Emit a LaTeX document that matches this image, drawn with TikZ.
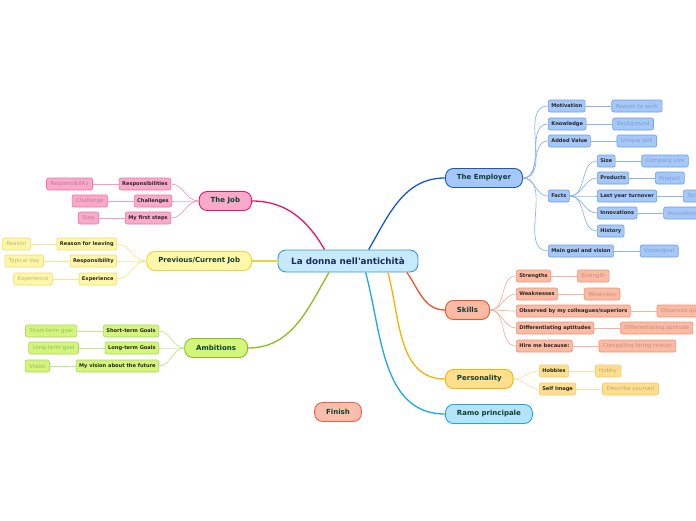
\documentclass[tikz,border=0pt]{standalone}
\usepackage{fontspec}
\newfontfamily\mapfont{DejaVu Sans}
\usetikzlibrary{positioning}
\definecolor{RootFill}{HTML}{C6EAFB}
\definecolor{RootLine}{HTML}{3B97D8}
\definecolor{RootText}{HTML}{1B2A5C}
\definecolor{MainText}{HTML}{0E3D33}
\definecolor{SubText}{HTML}{262626}
\definecolor{EmpFill}{HTML}{A6C8F8}
\definecolor{EmpLine}{HTML}{1558CC}
\definecolor{EmpEdge}{HTML}{6E9DE8}
\definecolor{EmpText}{HTML}{7F9BD0}
\definecolor{EmpLink}{HTML}{8DB4F2}
\definecolor{JobFill}{HTML}{F9AACB}
\definecolor{JobLine}{HTML}{E4136F}
\definecolor{JobEdge}{HTML}{EE74A8}
\definecolor{JobText}{HTML}{C47A9C}
\definecolor{JobLink}{HTML}{F59AC2}
\definecolor{PrevFill}{HTML}{FFF7A8}
\definecolor{PrevLine}{HTML}{E8D43C}
\definecolor{PrevEdge}{HTML}{EEDC6E}
\definecolor{PrevText}{HTML}{BDB77A}
\definecolor{PrevLink}{HTML}{F3E88A}
\definecolor{AmbFill}{HTML}{D3F57C}
\definecolor{AmbLine}{HTML}{8CBD1C}
\definecolor{AmbEdge}{HTML}{ABD85C}
\definecolor{AmbText}{HTML}{9AB86A}
\definecolor{AmbLink}{HTML}{C4E68A}
\definecolor{SkFill}{HTML}{FABAA3}
\definecolor{SkLine}{HTML}{E9542A}
\definecolor{SkEdge}{HTML}{F09276}
\definecolor{SkText}{HTML}{C8927E}
\definecolor{SkLink}{HTML}{F7B39D}
\definecolor{PeFill}{HTML}{FFDF8C}
\definecolor{PeLine}{HTML}{F5B400}
\definecolor{PeEdge}{HTML}{F6C870}
\definecolor{PeText}{HTML}{BFA878}
\definecolor{PeLink}{HTML}{FCE0A0}
\definecolor{RaFill}{HTML}{B3E4FA}
\definecolor{RaLine}{HTML}{1EA6E6}
\definecolor{FiFill}{HTML}{F9BFAC}
\definecolor{FiLine}{HTML}{E8604A}
\tikzset{
  rootbox/.style={draw=RootLine, fill=RootFill, line width=0.9pt, rounded corners=8pt,
    minimum width=140pt, minimum height=22pt, text=RootText,
    font=\mapfont\bfseries\fontsize{8.8}{10}\selectfont},
  branch/.style={draw=#1Line, fill=#1Fill, line width=0.9pt, rounded corners=8pt,
    minimum height=19pt, inner xsep=11.5pt, text=MainText,
    font=\mapfont\bfseries\fontsize{7}{8}\selectfont},
  topic/.style={draw=#1Edge, fill=#1Fill, line width=0.6pt, rounded corners=2pt,
    minimum height=12pt, inner xsep=3pt, inner ysep=1pt, text=SubText,
    font=\mapfont\bfseries\fontsize{5.1}{6.1}\selectfont},
  leaf/.style={topic=#1, text=#1Text, inner xsep=4pt,
    font=\mapfont\fontsize{5.5}{6.5}\selectfont},
  mainlink/.style={draw=#1Line, line width=1.3pt},
  sublink/.style={draw=#1Link, line width=0.7pt},
}
\begin{document}
\begin{tikzpicture}[x=1pt, y=1pt, node distance=26pt]
\useasboundingbox (0,0) rectangle (696,-520);
% centre
\node[rootbox] (root) at (348,-261) {La donna nell'antichità};
% main branches
\node[branch=Emp, anchor=west] (emp) at (445,-178) {The Employer};
\node[branch=Job, anchor=east] (job) at (252,-201) {The Job};
\node[branch=Prev, anchor=east] (prev) at (252,-261) {Previous/Current Job};
\node[branch=Amb, anchor=east] (amb) at (248,-348) {Ambitions};
\node[branch=Sk, anchor=west] (skill) at (445,-310) {Skills};
\node[branch=Pe, anchor=west] (pers) at (445,-379) {Personality};
\node[branch=Ra, anchor=west] (ramo) at (445,-414) {Ramo principale};
\node[branch=Fi] (finish) at (338,-412) {Finish};
\draw[mainlink=Emp] (root.29) to[out=60,in=180] (emp.west);
\draw[mainlink=Job] (root.154) to[out=120,in=0] (job.east);
\draw[mainlink=Prev] (root.west) -- (prev.east);
\draw[mainlink=Amb] (root.211) to[out=-120,in=0] (amb.east);
\draw[mainlink=Sk] (root.-11) to[out=-55,in=180] (skill.west);
\draw[mainlink=Pe] (root.-16) to[out=-75,in=180] (pers.west);
\draw[mainlink=Ra] (root.-33) to[out=-75,in=180] (ramo.west);
% the employer
\node[topic=Emp, anchor=west] (mot) at (548,-106) {Motivation};
\node[topic=Emp, anchor=west] (know) at (548,-124) {Knowledge};
\node[topic=Emp, anchor=west] (added) at (548,-141) {Added Value};
\node[topic=Emp, anchor=west] (facts) at (548,-196) {Facts};
\node[topic=Emp, anchor=west] (goal) at (548,-251) {Main goal and vision};
\node[leaf=Emp, right=of mot] (mot1) {Reason to work};
\node[leaf=Emp, right=of know] (know1) {Background};
\node[leaf=Emp, right=of added] (added1) {Unique skill};
\node[leaf=Emp, right=of goal] (goal1) {Vision/goal};
\draw[sublink=Emp] (emp.east) to[out=0,in=180] (mot.west);
\draw[sublink=Emp] (emp.east) to[out=0,in=180] (know.west);
\draw[sublink=Emp] (emp.east) to[out=0,in=180] (added.west);
\draw[sublink=Emp] (emp.east) to[out=0,in=180] (facts.west);
\draw[sublink=Emp] (emp.east) to[out=0,in=180] (goal.west);
\draw[sublink=Emp] (mot) -- (mot1);
\draw[sublink=Emp] (know) -- (know1);
\draw[sublink=Emp] (added) -- (added1);
\draw[sublink=Emp] (goal) -- (goal1);
% facts
\node[topic=Emp, anchor=west] (size) at (597,-161) {Size};
\node[topic=Emp, anchor=west] (prod) at (597,-178) {Products};
\node[topic=Emp, anchor=west] (turn) at (597,-196) {Last year turnover};
\node[topic=Emp, anchor=west] (innov) at (597,-213) {Innovations};
\node[topic=Emp, anchor=west] (hist) at (597,-231) {History};
\node[leaf=Emp, right=of size] (size1) {Company size};
\node[leaf=Emp, right=of prod] (prod1) {Product};
\node[leaf=Emp, right=of turn] (turn1) {Turnover};
\node[leaf=Emp, right=of innov] (innov1) {Innovation};
\draw[sublink=Emp] (facts.east) to[out=0,in=180] (size.west);
\draw[sublink=Emp] (facts.east) to[out=0,in=180] (prod.west);
\draw[sublink=Emp] (facts.east) to[out=0,in=180] (turn.west);
\draw[sublink=Emp] (facts.east) to[out=0,in=180] (innov.west);
\draw[sublink=Emp] (facts.east) to[out=0,in=180] (hist.west);
\draw[sublink=Emp] (size) -- (size1);
\draw[sublink=Emp] (prod) -- (prod1);
\draw[sublink=Emp] (turn) -- (turn1);
\draw[sublink=Emp] (innov) -- (innov1);
% skills
\node[topic=Sk, anchor=west] (str) at (516,-276) {Strengths};
\node[topic=Sk, anchor=west] (weak) at (516,-294) {Weaknesses};
\node[topic=Sk, anchor=west] (obs) at (516,-311) {Observed by my colleagues/superiors};
\node[topic=Sk, anchor=west] (diff) at (516,-328) {Differentiating aptitudes};
\node[topic=Sk, anchor=west] (hire) at (516,-346) {Hire me because:};
\node[leaf=Sk, right=of str] (str1) {Strength};
\node[leaf=Sk, right=of weak] (weak1) {Weakness};
\node[leaf=Sk, right=of obs] (obs1) {Observed qualities};
\node[leaf=Sk, right=of diff] (diff1) {Differentiating aptitude};
\node[leaf=Sk, right=of hire] (hire1) {Compelling hiring reason};
\draw[sublink=Sk] (skill.east) to[out=0,in=180] (str.west);
\draw[sublink=Sk] (skill.east) to[out=0,in=180] (weak.west);
\draw[sublink=Sk] (skill.east) to[out=0,in=180] (obs.west);
\draw[sublink=Sk] (skill.east) to[out=0,in=180] (diff.west);
\draw[sublink=Sk] (skill.east) to[out=0,in=180] (hire.west);
\draw[sublink=Sk] (str) -- (str1);
\draw[sublink=Sk] (weak) -- (weak1);
\draw[sublink=Sk] (obs) -- (obs1);
\draw[sublink=Sk] (diff) -- (diff1);
\draw[sublink=Sk] (hire) -- (hire1);
% personality
\node[topic=Pe, anchor=west] (hob) at (539,-371) {Hobbies};
\node[topic=Pe, anchor=west] (self) at (539,-389) {Self Image};
\node[leaf=Pe, right=of hob] (hob1) {Hobby};
\node[leaf=Pe, right=of self] (self1) {Describe yourself};
\draw[sublink=Pe] (pers.east) to[out=0,in=180] (hob.west);
\draw[sublink=Pe] (pers.east) to[out=0,in=180] (self.west);
\draw[sublink=Pe] (hob) -- (hob1);
\draw[sublink=Pe] (self) -- (self1);
% the job
\node[topic=Job, anchor=east] (resp) at (171,-184) {Responsibilities};
\node[topic=Job, anchor=east] (chal) at (172,-201) {Challenges};
\node[topic=Job, anchor=east] (first) at (171,-218) {My first steps};
\node[leaf=Job, left=of resp] (resp1) {Responsibility};
\node[leaf=Job, left=of chal] (chal1) {Challenge};
\node[leaf=Job, left=of first] (first1) {Step};
\draw[sublink=Job] (job.west) to[out=180,in=0] (resp.east);
\draw[sublink=Job] (job.west) to[out=180,in=0] (chal.east);
\draw[sublink=Job] (job.west) to[out=180,in=0] (first.east);
\draw[sublink=Job] (resp) -- (resp1);
\draw[sublink=Job] (chal) -- (chal1);
\draw[sublink=Job] (first) -- (first1);
% previous job
\node[topic=Prev, anchor=east] (leave) at (117,-244) {Reason for leaving};
\node[topic=Prev, anchor=east] (duty) at (117,-261) {Responsibility};
\node[topic=Prev, anchor=east] (exp) at (117,-279) {Experience};
\node[leaf=Prev, left=of leave] (leave1) {Reason};
\node[leaf=Prev, left=of duty] (duty1) {Typical day};
\node[leaf=Prev, left=of exp] (exp1) {Experience};
\draw[sublink=Prev] (prev.west) to[out=180,in=0] (leave.east);
\draw[sublink=Prev] (prev.west) to[out=180,in=0] (duty.east);
\draw[sublink=Prev] (prev.west) to[out=180,in=0] (exp.east);
\draw[sublink=Prev] (leave) -- (leave1);
\draw[sublink=Prev] (duty) -- (duty1);
\draw[sublink=Prev] (exp) -- (exp1);
% ambitions
\node[topic=Amb, anchor=east] (short) at (159,-331) {Short-term Goals};
\node[topic=Amb, anchor=east] (long) at (159,-348) {Long-term Goals};
\node[topic=Amb, anchor=east] (future) at (159,-366) {My vision about the future};
\node[leaf=Amb, left=of short] (short1) {Short-term goal};
\node[leaf=Amb, left=of long] (long1) {Long-term goal};
\node[leaf=Amb, left=of future] (future1) {Vision};
\draw[sublink=Amb] (amb.west) to[out=180,in=0] (short.east);
\draw[sublink=Amb] (amb.west) to[out=180,in=0] (long.east);
\draw[sublink=Amb] (amb.west) to[out=180,in=0] (future.east);
\draw[sublink=Amb] (short) -- (short1);
\draw[sublink=Amb] (long) -- (long1);
\draw[sublink=Amb] (future) -- (future1);
\end{tikzpicture}
\end{document}
